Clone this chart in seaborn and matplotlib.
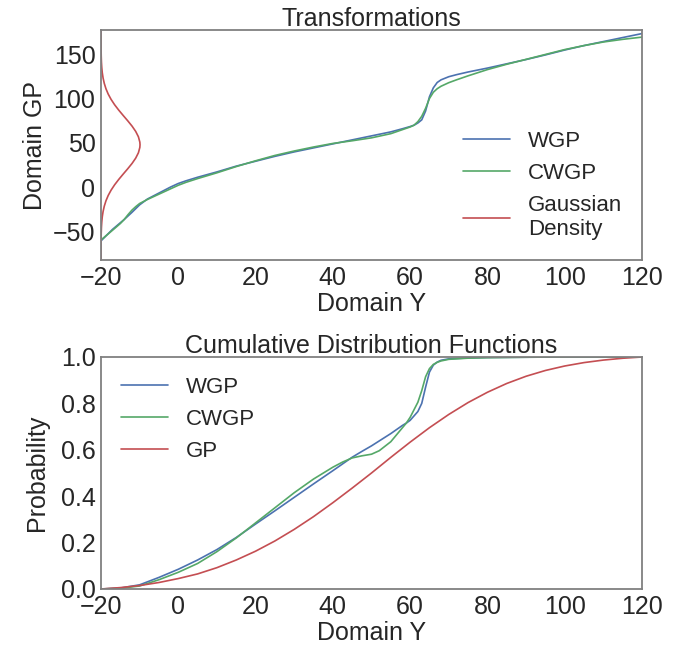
import matplotlib
matplotlib.use("Agg")
import matplotlib.pyplot as plt
import seaborn as sns

sns.set_style("white")
plt.rcParams['font.family'] = ['Liberation Sans', 'DejaVu Sans']

# ---- Top panel: transformations ----
wgp_x = [-20, -17, -14, -12, -10, -8, -6, -4, -2, 0, 2, 5, 10, 15, 20, 25, 30, 35, 40, 45, 50, 55, 58, 60,
         61, 62, 63, 64, 65, 66, 67, 68, 70, 72, 75, 80, 85, 90, 95, 100, 105, 110, 115, 120]
wgp_y = [-60, -47, -36, -28, -19.5, -13, -8.5, -4, 0.5, 4.5, 7.5, 11.5, 17.5, 24, 29.5, 35, 40, 44.5, 49, 53.5, 58, 62.5, 66, 68.5,
         70, 72.5, 76, 86, 102, 112, 118, 121, 124.5, 126.8, 129.8, 134.2, 139, 143.8, 149, 154.5, 159.5, 164, 168.5, 173]

cwgp_x = [-20, -17, -15, -14, -13, -12, -11, -10, -8, -6, -4, -2, 0, 2, 5, 10, 15, 20, 25, 30, 35, 40, 45, 50, 55, 58, 60,
          61, 62, 63, 64, 65, 66, 67, 68, 70, 72, 75, 80, 85, 90, 95, 100, 105, 110, 115, 120]
cwgp_y = [-59, -48, -40.5, -36, -30.5, -25.5, -21.5, -18, -13.5, -9.5, -5.5, -1.5, 2.5, 5.8, 10, 16.5, 23.5, 30, 36, 41, 45.5, 49.5, 52.5, 55.8, 60.5, 65, 68,
          70, 74, 80, 89, 100, 107, 111, 113.8, 117.8, 121, 125.5, 132.5, 138.5, 144, 149.5, 155, 159.5, 163.5, 166.5, 169]

dens_y = [-81, -75, -69, -63, -57, -51, -45, -39, -33, -27, -21, -15, -9, -3, 3, 9, 15, 21, 27, 33, 39, 45,
          48,
          51, 57, 63, 69, 75, 81, 87, 93, 99, 105, 111, 117, 123, 129, 135, 141, 147, 153, 159, 165, 171, 177]
dens_x = [-19.998, -19.996, -19.992, -19.984, -19.968, -19.939, -19.888, -19.803, -19.67, -19.46, -19.15, -18.72,
          -18.14, -17.39, -16.48, -15.42, -14.27, -13.09, -11.97, -11.02, -10.32, -9.95,
          -9.9,
          -9.95, -10.32, -11.02, -11.97, -13.09, -14.27, -15.42, -16.48, -17.39, -18.14, -18.72, -19.15, -19.46,
          -19.67, -19.803, -19.888, -19.939, -19.968, -19.984, -19.992, -19.996, -19.998]

# ---- Bottom panel: CDFs ----
cdf_wgp_x = [-20, -15, -10, -5, 0, 5, 10, 15, 20, 25, 30, 35, 40, 45, 47.5, 50, 55, 58, 59, 60, 62, 63, 64, 65, 66, 67, 68,
             70, 75, 80, 90, 100, 120]
cdf_wgp_y = [0, 0.004, 0.018, 0.05, 0.085, 0.125, 0.17, 0.222, 0.28, 0.337, 0.395, 0.453, 0.51, 0.568, 0.593, 0.617, 0.67,
             0.705, 0.715, 0.727, 0.765, 0.80, 0.87, 0.935, 0.965, 0.978, 0.986, 0.992, 0.996, 0.998, 0.999, 1.0, 1.0]

cdf_cwgp_x = [-20, -15, -10, -5, 0, 5, 10, 15, 20, 25, 30, 35, 40, 42.5, 45, 47.5, 50, 52, 55, 58, 59, 60, 62, 63, 64, 65,
              66, 67, 68, 70, 75, 80, 90, 100, 120]
cdf_cwgp_y = [0, 0.003, 0.013, 0.04, 0.072, 0.11, 0.161, 0.22, 0.285, 0.35, 0.415, 0.474, 0.525, 0.547, 0.565, 0.574, 0.581,
              0.596, 0.635, 0.695, 0.715, 0.74, 0.805, 0.855, 0.915, 0.95, 0.968, 0.977, 0.983, 0.99, 0.995, 0.997,
              0.999, 1.0, 1.0]

cdf_gp_x = [-20, -15, -10, -5, 0, 5, 10, 15, 20, 25, 30, 35, 40, 45, 50, 55, 60, 65, 70, 75, 80, 85, 90, 95, 100,
            105, 110, 115, 120]
cdf_gp_y = [0, 0.006, 0.015, 0.028, 0.045, 0.065, 0.092, 0.125, 0.163, 0.207, 0.257, 0.312, 0.372, 0.435, 0.50, 0.5675,
            0.633, 0.6953, 0.7524, 0.8037, 0.848, 0.8859, 0.917, 0.9419, 0.9612, 0.9759, 0.9867, 0.9946, 1.0]

blue, green, red = "#4C72B0", "#55A868", "#C44E52"
text_c = "#262626"

fig = plt.figure(figsize=(6.91, 6.52), dpi=100)
ax1 = fig.add_axes([101/691, 1 - 260/652, (642-101)/691, (260-30)/652])
ax2 = fig.add_axes([101/691, 1 - 589/652, (642-101)/691, (589-357)/652])

lw = 1.2
sns.lineplot(x=wgp_x, y=wgp_y, ax=ax1, color=blue, lw=lw, label="WGP", sort=False, estimator=None)
sns.lineplot(x=cwgp_x, y=cwgp_y, ax=ax1, color=green, lw=lw, label="CWGP", sort=False, estimator=None)
sns.lineplot(x=dens_x, y=dens_y, ax=ax1, color=red, lw=lw, label="Gaussian\nDensity", sort=False, estimator=None)

sns.lineplot(x=cdf_wgp_x, y=cdf_wgp_y, ax=ax2, color=blue, lw=lw, label="WGP", sort=False, estimator=None)
sns.lineplot(x=cdf_cwgp_x, y=cdf_cwgp_y, ax=ax2, color=green, lw=lw, label="CWGP", sort=False, estimator=None)
sns.lineplot(x=cdf_gp_x, y=cdf_gp_y, ax=ax2, color=red, lw=lw, label="GP", sort=False, estimator=None)

ax1.set_xlim(-20, 120)
ax1.set_ylim(-81.5, 177)
ax1.set_yticks([-50, 0, 50, 100, 150])
ax2.set_xlim(-20, 120)
ax2.set_ylim(0, 1.0)
ax2.set_yticks([0.0, 0.2, 0.4, 0.6, 0.8, 1.0])

for ax in (ax1, ax2):
    ax.set_xticks([-20, 0, 20, 40, 60, 80, 100, 120])
    ax.tick_params(labelsize=18, length=0, pad=4, colors=text_c)
    for s in ax.spines.values():
        s.set_color("#808080")
        s.set_linewidth(1.3)
    ax.set_xlabel("Domain Y", fontsize=18, color=text_c, labelpad=2)

ax1.set_ylabel("Domain GP", fontsize=18, color=text_c, labelpad=4)
ax2.set_ylabel("Probability", fontsize=18, color=text_c, labelpad=8)
ax1.set_title("Transformations", fontsize=18, color=text_c, pad=3)
ax2.set_title("Cumulative Distribution Functions", fontsize=18, color=text_c, pad=3)

leg1 = ax1.legend(loc="lower right", fontsize=16, frameon=False, handlelength=2.1)
leg2 = ax2.legend(loc="upper left", fontsize=16, frameon=False, handlelength=2.1)
for leg in (leg1, leg2):
    for t in leg.get_texts():
        t.set_color(text_c)

fig.savefig("out.png", dpi=100)
